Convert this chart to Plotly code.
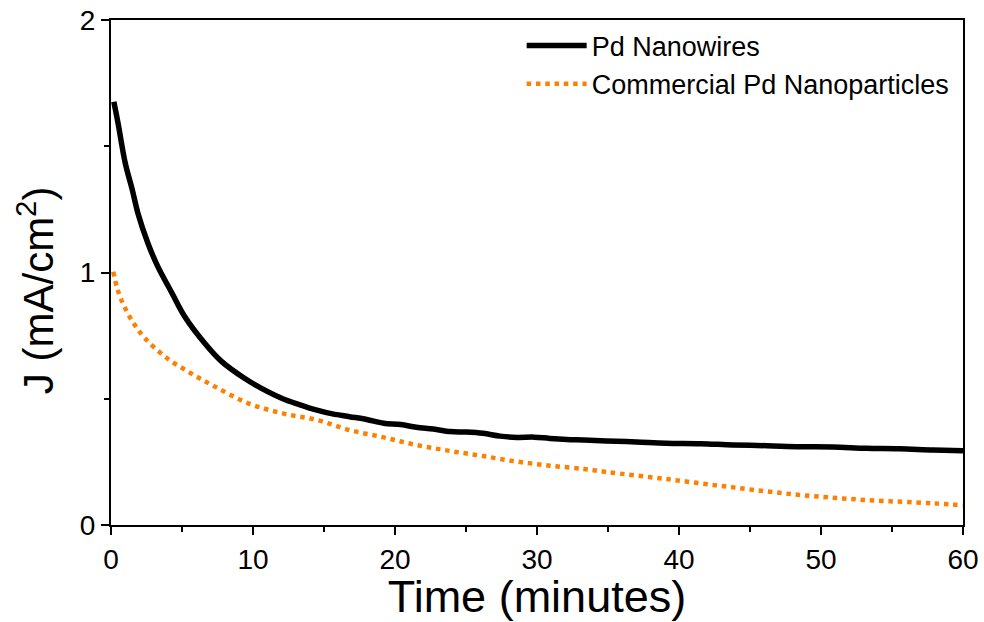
import plotly.graph_objects as go

# Pd nanowires
t_nw = [0.2, 0.5, 1.0, 1.5, 1.9, 2.6, 3.3, 4.3, 5.2, 6.6, 7.8, 9.4, 10.6, 12.1, 13.2, 14.5,
        15.6, 16.8, 18.0, 19.2, 20.4, 21.5, 22.7, 23.9, 25.0, 26.2, 27.4, 28.6, 29.8, 30.9,
        32.1, 33.3, 34.9, 37.0, 39.1, 41.5, 43.8, 46.2, 48.5, 50.8, 53.2, 55.5, 57.9, 60.0]
j_nw = [1.676, 1.59, 1.434, 1.327, 1.234, 1.116, 1.023, 0.918, 0.825, 0.72, 0.647, 0.581,
        0.541, 0.50, 0.478, 0.455, 0.44, 0.429, 0.418, 0.403, 0.398, 0.387, 0.380, 0.370,
        0.368, 0.363, 0.352, 0.347, 0.348, 0.343, 0.339, 0.337, 0.333, 0.329, 0.324, 0.322,
        0.317, 0.314, 0.31, 0.309, 0.304, 0.302, 0.297, 0.294]

# Commercial Pd nanoparticles
t_np = [0.16, 0.47, 0.94, 1.57, 2.35, 3.8, 5.56, 7.32, 9.67, 12.1, 14.5, 16.8, 19.2, 21.5,
        23.9, 26.2, 28.6, 30.9, 33.3, 34.9, 39.1, 43.8, 48.5, 53.2, 57.9, 60.0]
j_np = [1.003, 0.931, 0.865, 0.801, 0.742, 0.667, 0.603, 0.548, 0.482, 0.442, 0.416, 0.376,
        0.347, 0.317, 0.293, 0.273, 0.251, 0.235, 0.222, 0.21, 0.182, 0.149, 0.119, 0.099,
        0.086, 0.078]

x_ticks = [0, 10, 20, 30, 40, 50, 60]
y_ticks = [0, 1, 2]

font = "Liberation Sans"

fig = go.Figure()
fig.add_trace(go.Scatter(x=t_nw, y=j_nw, mode="lines", name="Pd Nanowires",
                         line=dict(color="black", width=5.5, shape="spline")))
fig.add_trace(go.Scatter(x=t_np, y=j_np, mode="lines", name="Commercial Pd Nanoparticles",
                         line=dict(color="#ff8000", width=4.5, dash="4.5px,4.8px", shape="spline")))

axis_common = dict(showline=True, linecolor="black", linewidth=2, mirror=True,
                   ticks="outside", ticklen=8, tickwidth=2, tickcolor="black",
                   showgrid=False, zeroline=False, automargin=False)

fig.update_xaxes(range=[0, 60], tickvals=x_ticks, ticktext=[str(v) for v in x_ticks],
                 tickfont=dict(family=font, size=28, color="black"),
                 minor=dict(ticks="outside", dtick=5, tick0=0, ticklen=5, tickwidth=2, tickcolor="black"),
                 title=dict(text="Time (minutes)", font=dict(family=font, size=45, color="black"),
                            standoff=12),
                 **axis_common)
fig.update_yaxes(range=[0, 2], tickvals=y_ticks, ticktext=[str(v) for v in y_ticks],
                 tickfont=dict(family=font, size=28, color="black"),
                 minor=dict(ticks="outside", dtick=0.5, tick0=0, ticklen=5, tickwidth=2, tickcolor="black"),
                 **axis_common)

# y title as an annotation so it can sit a little below the axis middle, as in the original
fig.add_annotation(text="J (mA/cm<sup>2</sup>)", xref="paper", yref="paper",
                   x=-0.088, y=0.465, xanchor="center", yanchor="middle",
                   textangle=-90, showarrow=False,
                   font=dict(family=font, size=42, color="black"))

fig.update_layout(
    width=984, height=622,
    margin=dict(l=111, r=21, t=20, b=97),
    plot_bgcolor="white", paper_bgcolor="white",
    font=dict(family=font, size=27, color="black"),
    legend=dict(x=0.482, y=0.997, xanchor="left", yanchor="top",
                font=dict(family=font, size=27, color="black"),
                bgcolor="rgba(0,0,0,0)", tracegroupgap=0, itemwidth=60),
)

# drop the default 8px body margin so the figure sits at the window's corner
fig.write_html("out.html", config={"displayModeBar": False},
               post_script="document.body.style.margin='0';")
